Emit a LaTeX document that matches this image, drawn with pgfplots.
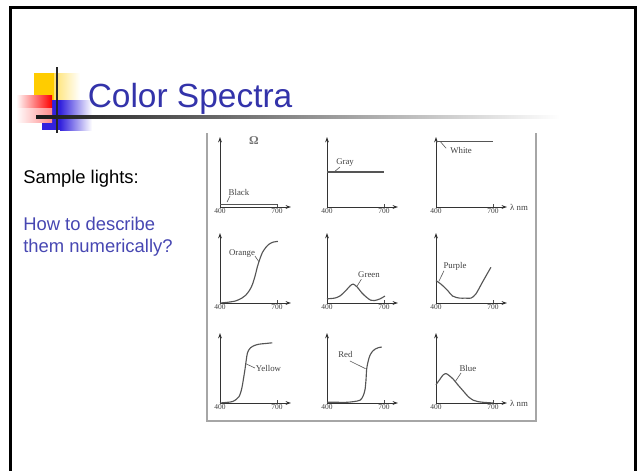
\documentclass[border=0pt]{standalone}
\usepackage{fontspec}
\setmainfont{Liberation Sans}
\newfontfamily\figfont{Liberation Serif}
\usepackage{pgfplots}
\pgfplotsset{compat=1.18}
\usetikzlibrary{arrows.meta}

\definecolor{titleblue}{RGB}{51,51,170}
\definecolor{iconyellow}{RGB}{255,204,0}
\definecolor{iconred}{RGB}{255,0,0}
\definecolor{iconblue}{RGB}{51,34,221}
\definecolor{ink}{RGB}{85,85,85}

% common look of the nine small spectrum panels
\pgfplotsset{
  spec/.style={
    anchor=south west,
    scale only axis, width=53.25pt, height=52.5pt,
    xmin=400, xmax=773.7, ymin=0, ymax=1,
    axis lines=left, clip=false,
    axis line style={line width=0.7pt, draw=black!80,
      -{Stealth[length=4pt,width=2.8pt]}},
    xtick={400,700}, xticklabels={400,700}, ytick=\empty,
    major tick length=2.5pt, tick align=inside,
    tick style={draw=black!70, line width=0.5pt},
    xticklabel style={font=\figfont\fontsize{5.6}{6}\selectfont,
      text=black!75, inner sep=0.6pt},
  },
  curve/.style={draw=ink, line width=0.85pt, no marks},
}
\tikzset{
  lbl/.style={font=\figfont\fontsize{6.6}{7}\selectfont, text=black!75, inner sep=0pt},
  lead/.style={draw=black!65, line width=0.45pt},
}

\begin{document}
\begin{tikzpicture}[x=0.75pt,y=-0.75pt]
\useasboundingbox (0,0) rectangle (639,471);

% slide frame
\draw[line width=2.4pt, black] (10.5,475) -- (10.5,7.5) -- (635.5,7.5) -- (635.5,475);

% title ornament
\shade[left color=iconyellow, right color=white]
  (34,73) rectangle (80,100);
\fill[iconyellow] (34,73) rectangle (54,100);
\shade[left color=iconblue, right color=white] (60,100) rectangle (92,130);
\fill[iconblue] (42,100) rectangle (60,130);
\shade[left color=white, right color=iconred] (16,95) rectangle (52,122);
\shade[top color=white, bottom color=white, opacity=0.55] (16,108) rectangle (52,122);
\fill[black!85] (56,67) rectangle (58,133);
\shade[left color=black!90, right color=white] (36,115.8) rectangle (560,118.4);

% title and side text
\node[anchor=base west, inner sep=0pt, text=titleblue,
  font=\fontsize{25.1}{30}\selectfont] at (87.5,107) {Color Spectra};
\node[anchor=base west, inner sep=0pt, font=\fontsize{13.8}{16}\selectfont]
  at (23,183) {Sample lights:};
\node[anchor=base west, inner sep=0pt, text=titleblue!90!white,
  font=\fontsize{13.8}{16}\selectfont] at (23,230) {How to describe};
\node[anchor=base west, inner sep=0pt, text=titleblue!90!white,
  font=\fontsize{13.8}{16}\selectfont] at (23,252) {them numerically?};

% frame around the figure
\draw[black!35, line width=0.8pt] (207,133) -- (207,421) -- (536,421) -- (536,133);

% ---------- row 1 ----------
\begin{axis}[spec, at={(165pt,-155.25pt)}]
  \addplot[curve] coordinates {(400,0.04) (700,0.04)};
  \node[lbl] at (axis cs:500,0.21) {Black};
  \draw[lead] (axis cs:453,0.16) -- (axis cs:437,0.07);
  \node[lbl, text=black!55, font=\figfont\bfseries\fontsize{9}{9}\selectfont]
    at (axis cs:579,0.95) {Ω};
\end{axis}
\begin{axis}[spec, at={(245.25pt,-155.25pt)}]
  \addplot[curve] coordinates {(400,0.5) (700,0.5)};
  \node[lbl] at (axis cs:495,0.64) {Gray};
  \draw[lead] (axis cs:468,0.57) -- (axis cs:437,0.5);
\end{axis}
\begin{axis}[spec, at={(327pt,-155.25pt)}]
  \addplot[curve] coordinates {(400,0.94) (700,0.94)};
  \node[lbl] at (axis cs:532,0.8) {White};
  \draw[lead] (axis cs:453,0.84) -- (axis cs:421,0.94);
  \node[lbl, anchor=west] at (axis cs:789,0) {λ nm};
\end{axis}

% ---------- row 2 ----------
\begin{axis}[spec, at={(165pt,-227.25pt)}]
  \addplot[curve, smooth] coordinates {(400,0) (440,0.01) (483,0.03) (515,0.07) (535,0.11)
    (555,0.18) (570,0.26) (585,0.39) (597,0.52) (610,0.63) (623,0.72) (640,0.79)
    (658,0.84) (680,0.87) (705,0.88)};
  \node[lbl] at (axis cs:516,0.71) {Orange};
  \draw[lead] (axis cs:584,0.67) -- (axis cs:605,0.59);
\end{axis}
\begin{axis}[spec, at={(245.25pt,-227.25pt)}]
  \addplot[curve, smooth] coordinates {(400,0.06) (440,0.07) (468,0.10) (500,0.18)
    (520,0.24) (537,0.27) (558,0.23) (585,0.14) (609,0.08) (630,0.04) (650,0.035)
    (680,0.06) (705,0.10)};
  \node[lbl] at (axis cs:621,0.40) {Green};
  \draw[lead] (axis cs:581,0.34) -- (axis cs:558,0.24);
\end{axis}
\begin{axis}[spec, at={(327pt,-227.25pt)}]
  \addplot[curve, smooth] coordinates {(400,0.32) (426,0.27) (461,0.18) (487,0.10)
    (523,0.07) (555,0.07) (584,0.07) (610,0.13) (645,0.30) (689,0.51)};
  \node[lbl] at (axis cs:500,0.52) {Purple};
  \draw[lead] (axis cs:442,0.46) -- (axis cs:415,0.31);
\end{axis}

% ---------- row 3 ----------
\begin{axis}[spec, at={(165pt,-302.25pt)}]
  \addplot[curve, smooth] coordinates {(400,0) (440,0.01) (465,0.02) (485,0.05) (500,0.09)
    (510,0.16) (517,0.24) (525,0.37) (532,0.49) (538,0.61) (544,0.71) (552,0.76)
    (561,0.79) (580,0.82) (605,0.84) (640,0.85) (675,0.86)};
  \node[lbl, anchor=west] at (axis cs:588,0.5) {Yellow};
  \draw[lead] (axis cs:537,0.56) -- (axis cs:584,0.5);
\end{axis}
\begin{axis}[spec, at={(245.25pt,-302.25pt)}]
  \addplot[curve, smooth] coordinates {(400,0.01) (450,0.01) (504,0.01) (540,0.02) (574,0.04)
    (590,0.10) (600,0.19) (605,0.32) (609,0.49) (617,0.60) (626,0.68) (640,0.74)
    (653,0.77) (670,0.79) (688,0.80)};
  \node[lbl] at (axis cs:497,0.70) {Red};
  \draw[lead] (axis cs:521,0.6) -- (axis cs:603,0.49);
\end{axis}
\begin{axis}[spec, at={(327pt,-302.25pt)}]
  \addplot[curve, smooth] coordinates {(400,0.26) (410,0.30) (421,0.34) (437,0.40) (453,0.42)
    (470,0.39) (491,0.34) (515,0.26) (544,0.17) (570,0.09) (596,0.04) (620,0.02)
    (649,0.01) (675,0.005) (702,0.0)};
  \node[lbl] at (axis cs:568,0.49) {Blue};
  \draw[lead] (axis cs:532,0.43) -- (axis cs:500,0.3);
  \node[lbl, anchor=west] at (axis cs:789,0) {λ nm};
\end{axis}
\end{tikzpicture}
\end{document}
